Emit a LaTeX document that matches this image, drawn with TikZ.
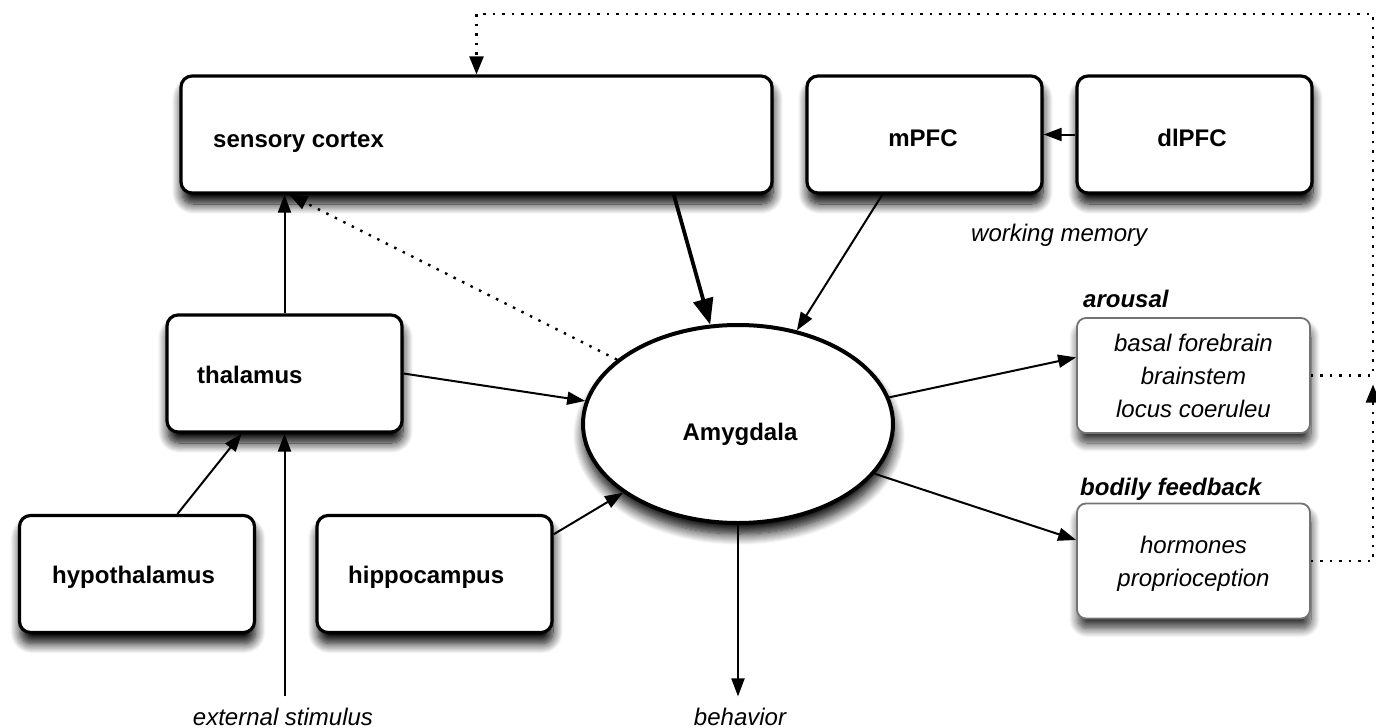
\documentclass[tikz,border=0pt]{standalone}
\usepackage{fontspec}
\setmainfont{Liberation Sans}
\usetikzlibrary{arrows.meta,shapes.geometric,shadows.blur,calc}
\begin{document}
\begin{tikzpicture}[x=1pt,y=-1pt,
  box/.style={draw=black, line width=3.2pt, rounded corners=11pt, fill=white,
    minimum width=235pt, minimum height=117pt, inner sep=0pt,
    blur shadow={shadow xshift=1pt, shadow yshift=-11pt, shadow blur radius=10pt, shadow blur steps=12, shadow opacity=100}},
  sidebox/.style={draw=black!55, line width=1.8pt, rounded corners=9pt, fill=white,
    minimum width=233pt, minimum height=115pt, inner sep=0pt, align=center, text depth=0pt,
    font=\fontsize{24}{33}\selectfont\itshape,
    blur shadow={shadow xshift=1pt, shadow yshift=-10pt, shadow blur radius=9pt, shadow blur steps=12, shadow opacity=80}},
  blbl/.style={font=\fontsize{24}{29}\selectfont\bfseries, inner sep=0pt},
  ilbl/.style={font=\fontsize{24}{29}\selectfont\itshape, inner sep=11pt},
  bilbl/.style={font=\fontsize{24}{29}\selectfont\bfseries\itshape, inner sep=0pt},
  arr/.style={line width=2pt, -{Triangle[length=18pt,width=13pt]}},
  thickarr/.style={line width=3.8pt, -{Triangle[length=26pt,width=20pt]}},
  dotline/.style={line width=2.4pt, dash pattern=on 2.5pt off 7pt, -{Triangle[length=18pt,width=14pt]}},
]
\useasboundingbox (0,0) rectangle (1376,728);

% boxes
\node[box, minimum width=591pt] (sc) at (476.5,134.5) {};
\node[box] (mp) at (924.5,134.5) {};
\node[box] (dl) at (1194.5,134.5) {};
\node[box] (th) at (284.5,373.5) {};
\node[box] (hy) at (137,574) {};
\node[box] (hi) at (434.5,574) {};
\node[sidebox] (ar) at (1193.5,375.5) {basal forebrain\\brainstem\\locus coeruleu};
\node[sidebox] (bf) at (1193.5,561) {hormones\\proprioception};
\node[draw=black, ellipse, line width=4pt, fill=white, minimum width=310pt, minimum height=198pt,
  blur shadow={shadow xshift=1pt, shadow yshift=-11pt, shadow blur radius=11pt, shadow blur steps=12, shadow opacity=100}] (amy) at (738,424) {};

% box texts
\node[blbl, anchor=base west] (sct) at (213,147) {sensory cortex};
\node[blbl, anchor=base] (mpt) at (923,146) {mPFC};
\node[blbl, anchor=base] (dlt) at (1192,146) {dlPFC};
\node[blbl, anchor=base west] (tht) at (197,383) {thalamus};
\node[blbl, anchor=base west] (hyt) at (52,583) {hypothalamus};
\node[blbl, anchor=base west] (hit) at (348,583) {hippocampus};
\node[blbl, anchor=base] (amt) at (740,440) {Amygdala};

% free labels
\node[ilbl, anchor=base west, inner sep=0pt] (wm) at (971,241) {working memory};
\node[bilbl, anchor=base west] (arl) at (1083,307) {arousal};
\node[bilbl, anchor=base west] (bfl) at (1080,495) {bodily feedback};
\node[ilbl, anchor=base] (ext) at (283,725) {external stimulus};
\node[ilbl, anchor=base] (beh) at (740,725) {behavior};

% connections
\draw[arr] (th.north) -- (th.north |- sc.south);
\draw[dotline] (amy.152) -- ($(sc.south west)!0.185!(sc.south east)$);
\draw[arr] (th.east) -- (amy);
\draw[arr] ($(hy.north west)!0.67!(hy.north east)$) -- ($(th.south west)!0.32!(th.south east)$);
\draw[arr] (ext.north -| th.south) -- (th.south);
\draw[arr] ($(hi.east)!0.66!(hi.north east)$) -- (amy);
\draw[arr] (amy.south) -- (amy.south |- beh.north);
\draw[thickarr] ($(sc.south west)!0.832!(sc.south east)$) -- (amy);
\draw[arr] ($(mp.south west)!0.323!(mp.south east)$) -- (amy);
\draw[arr] (dl.west) -- (mp.east);
\draw[arr] (amy.10) -- ($(ar.west)!0.31!(ar.north west)$);
\draw[arr] (amy.-20) -- ($(bf.west)!0.36!(bf.north west)$);

% feedback loop back to the sensory cortex
\coordinate (rc) at (1373,14);
\draw[dotline] (ar.east) -- (ar.east -| rc) -- (rc) -- (rc -| sc.north) -- (sc.north);
\draw[dotline] (bf.east) -- (bf.east -| rc) -- ($(ar.east -| rc)+(0,9)$);
\end{tikzpicture}
\end{document}
